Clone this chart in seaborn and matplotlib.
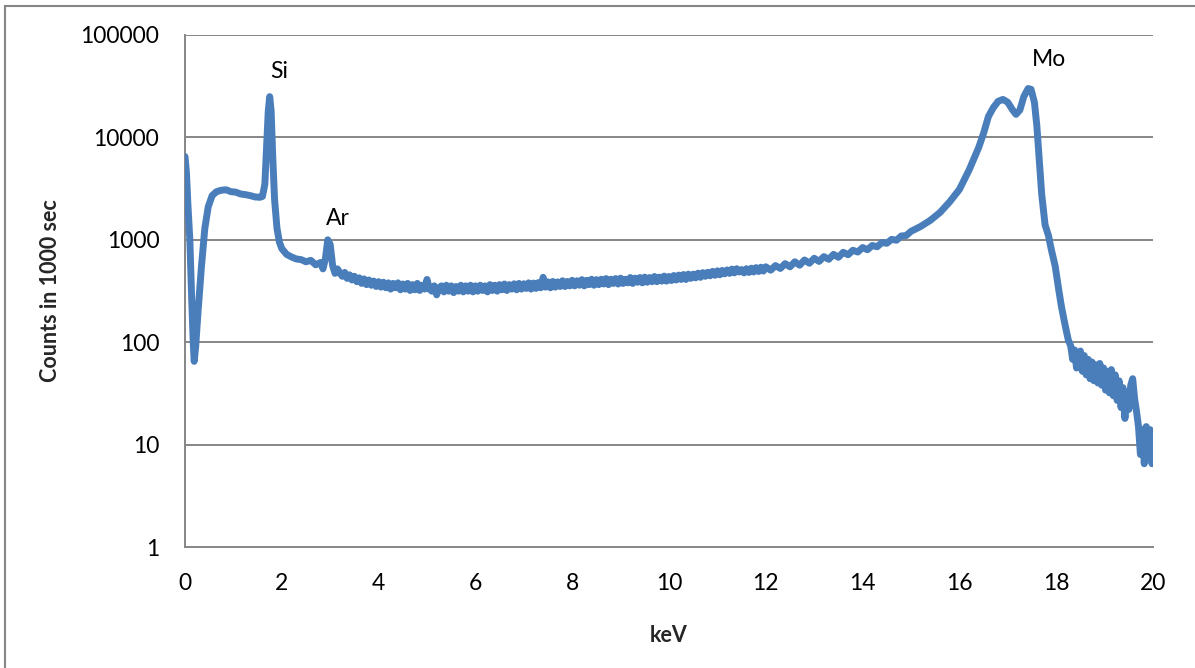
import numpy as np
import pandas as pd
import matplotlib
matplotlib.use("Agg")
import matplotlib.pyplot as plt
import seaborn as sns
from matplotlib.patches import Rectangle

# ---- data (three segments of the spectrum) ----
kev_low = [
    0.0, 0.03, 0.06, 0.1, 0.14, 0.17, 0.19, 0.22, 0.27, 0.34, 0.41, 0.48, 0.56, 0.65, 0.75,
    0.85, 0.95, 1.05, 1.15, 1.25, 1.35, 1.45, 1.55, 1.6, 1.65, 1.69, 1.72, 1.75, 1.78, 1.81,
    1.85, 1.9, 1.95, 2.0, 2.1, 2.2, 2.3, 2.4, 2.5, 2.6, 2.7, 2.8, 2.85, 2.9, 2.95, 3.0, 3.05,
]
counts_low = [
    6500, 4500, 2200, 1000, 250, 100, 65, 90, 200, 550, 1300, 2100, 2700, 2950, 3050,
    3080, 2950, 2920, 2800, 2760, 2700, 2620, 2600, 2650, 3500, 9000, 18000, 25000, 18000, 7000,
    2500, 1300, 950, 820, 720, 680, 650, 640, 610, 630, 570, 600, 520, 650, 1000, 900, 560,
]

kev_mid = [
    3.10, 3.15, 3.20, 3.25, 3.30, 3.35, 3.40, 3.45, 3.50, 3.55, 3.60, 3.65, 3.70, 3.75, 3.80,
    3.85, 3.90, 3.95, 4.00, 4.05, 4.10, 4.15, 4.20, 4.25, 4.30, 4.35, 4.40, 4.45, 4.50, 4.55,
    4.60, 4.65, 4.70, 4.75, 4.80, 4.85, 4.90, 4.95, 5.00, 5.05, 5.10, 5.15, 5.20, 5.25, 5.30,
    5.35, 5.40, 5.45, 5.50, 5.55, 5.60, 5.65, 5.70, 5.75, 5.80, 5.85, 5.90, 5.95, 6.00, 6.05,
    6.10, 6.15, 6.20, 6.25, 6.30, 6.35, 6.40, 6.45, 6.50, 6.55, 6.60, 6.65, 6.70, 6.75, 6.80,
    6.85, 6.90, 6.95, 7.00, 7.05, 7.10, 7.15, 7.20, 7.25, 7.30, 7.35, 7.40, 7.45, 7.50, 7.55,
    7.60, 7.65, 7.70, 7.75, 7.80, 7.85, 7.90, 7.95, 8.00, 8.05, 8.10, 8.15, 8.20, 8.25, 8.30,
    8.35, 8.40, 8.45, 8.50, 8.55, 8.60, 8.65, 8.70, 8.75, 8.80, 8.85, 8.90, 8.95, 9.00, 9.05,
    9.10, 9.15, 9.20, 9.25, 9.30, 9.35, 9.40, 9.45, 9.50, 9.55, 9.60, 9.65, 9.70, 9.75, 9.80,
    9.85, 9.90, 9.95, 10.00, 10.05, 10.10, 10.15, 10.20, 10.25, 10.30, 10.35, 10.40, 10.45,
    10.50, 10.55, 10.60, 10.65, 10.70, 10.75, 10.80, 10.85, 10.90, 10.95, 11.00, 11.05,
    11.10, 11.15, 11.20, 11.25, 11.30, 11.35, 11.40, 11.45, 11.50, 11.55, 11.60, 11.65,
    11.70, 11.75, 11.80, 11.85, 11.90, 11.95, 12.00,
]
counts_mid = [
    470, 520, 475, 440, 480, 420, 455, 405, 440, 390, 425, 375, 415, 365, 405,
    360, 395, 350, 390, 345, 385, 340, 380, 330, 375, 340, 380, 325, 370, 330,
    375, 320, 365, 325, 375, 320, 360, 330, 410, 330, 315, 355, 290, 340, 355,
    310, 360, 315, 355, 305, 350, 315, 360, 310, 355, 315, 360, 310, 355, 315,
    360, 320, 355, 310, 365, 320, 360, 315, 365, 325, 370, 320, 365, 330, 372,
    325, 375, 330, 372, 335, 380, 330, 378, 335, 382, 340, 430, 345, 388, 340,
    392, 345, 388, 350, 398, 350, 392, 355, 402, 355, 398, 360, 408, 355, 402,
    365, 412, 360, 408, 365, 412, 370, 418, 365, 412, 375, 418, 370, 422, 375,
    412, 380, 428, 375, 422, 385, 428, 380, 432, 385, 428, 390, 438, 390, 432,
    395, 442, 395, 438, 400, 448, 405, 452, 410, 458, 410, 462, 420,
    462, 425, 472, 430, 478, 440, 482, 445, 492, 450, 498, 455,
    502, 465, 508, 470, 518, 475, 522, 485, 512, 475, 522, 480,
    528, 485, 535, 490, 540, 495, 545,
]

kev_high = [
    12.1, 12.2, 12.3, 12.4, 12.5, 12.6, 12.7, 12.8, 12.9, 13.0, 13.1, 13.2, 13.3, 13.4,
    13.5, 13.6, 13.7, 13.8, 13.9, 14.0, 14.1, 14.2, 14.3, 14.4, 14.5, 14.6, 14.7, 14.8,
    14.9, 15.0, 15.2, 15.4, 15.6, 15.8, 16.0, 16.2, 16.4, 16.5, 16.6, 16.7, 16.8, 16.9,
    17.0, 17.1, 17.17, 17.25, 17.33, 17.42, 17.48, 17.55, 17.6, 17.65, 17.7, 17.77, 17.84,
    17.9, 17.98, 18.05, 18.11, 18.18, 18.25, 18.30, 18.34, 18.38, 18.42, 18.46, 18.50,
    18.54, 18.58, 18.62, 18.66, 18.70, 18.74, 18.78, 18.82, 18.86, 18.90, 18.94, 18.98,
    19.02, 19.06, 19.10, 19.14, 19.18, 19.22, 19.26, 19.30, 19.34, 19.38, 19.42, 19.46,
    19.50, 19.54, 19.58, 19.62, 19.66, 19.70, 19.74, 19.78, 19.82, 19.86, 19.90, 19.94,
    19.98, 20.0,
]
counts_high = [
    505, 560, 525, 585, 545, 610, 565, 635, 590, 660, 615, 685, 645, 720,
    675, 755, 715, 790, 760, 840, 800, 880, 855, 940,
    925, 1010, 990, 1090, 1100, 1210, 1350, 1550, 1850, 2350, 3100, 4800, 8000, 11000,
    16000, 19500, 22500, 23500, 22000, 18500, 16800, 18500, 25000, 30000, 29500, 22000,
    13000, 6000, 2800, 1400, 1100, 800, 550, 330, 220, 150, 105, 92, 68, 84, 56, 70, 82,
    52, 74, 48, 68, 44, 64, 42, 60, 40, 62, 38, 56,
    34, 52, 32, 54, 30, 48, 27, 42, 23, 36, 18, 30,
    22, 38, 44, 28, 21, 15, 8, 14, 6.5, 15, 7.5, 14,
    6.5, 12,
]

x_ticks = [0, 2, 4, 6, 8, 10, 12, 14, 16, 18, 20]
y_ticks = [1, 10, 100, 1000, 10000, 100000]
peak_labels = ["Si", "Ar", "Mo"]
peak_x = [1.94, 3.16, 17.85]
peak_y = [43600, 1630, 57000]

df = pd.DataFrame({"keV": kev_low + kev_mid + kev_high,
                   "counts": counts_low + counts_mid + counts_high})

sns.set_style("white")
plt.rcParams["font.family"] = ["Lato", "DejaVu Sans"]

W, H = 1195, 668
fig = plt.figure(figsize=(W / 100, H / 100), dpi=100)
ax = fig.add_axes([185 / W, (H - 547) / H, 968 / W, 512 / H])

grey = "#868686"
ax.set_yscale("log")
ax.set_xlim(0, 20)
ax.set_ylim(1, 100000)
for yt in y_ticks[1:]:
    ax.axhline(yt, color=grey, lw=1.4, zorder=1)

sns.lineplot(data=df, x="keV", y="counts", ax=ax, color="#4A7EBB", lw=5,
             sort=False, estimator=None, zorder=3)

for lab, px, py in zip(peak_labels, peak_x, peak_y):
    ax.text(px, py, lab, ha="center", va="center", fontsize=16.5, color="black")

ax.set_xticks(x_ticks)
ax.set_xticklabels([str(t) for t in x_ticks])
ax.set_yticks(y_ticks)
ax.set_yticklabels([str(t) for t in y_ticks])
ax.minorticks_off()
ax.tick_params(axis="both", which="major", direction="out", length=6, width=1.4,
               color=grey, labelsize=16.5, labelcolor="black")
ax.tick_params(axis="x", pad=13)
ax.tick_params(axis="y", pad=12.5)
ax.set_xlabel("keV", fontsize=15.5, fontweight="bold", labelpad=22)
ax.set_ylabel("Counts in 1000 sec", fontsize=15.5, fontweight="bold", labelpad=14)

for s in ["top", "right"]:
    ax.spines[s].set_visible(False)
for s in ["left", "bottom"]:
    ax.spines[s].set_color(grey)
    ax.spines[s].set_linewidth(1.4)

fig.patches.append(Rectangle((5 / W, -0.1), 1.2, (H - 6) / H + 0.1,
                             transform=fig.transFigure, fill=False,
                             edgecolor=grey, lw=1.5))

fig.savefig("out.png", dpi=100)
